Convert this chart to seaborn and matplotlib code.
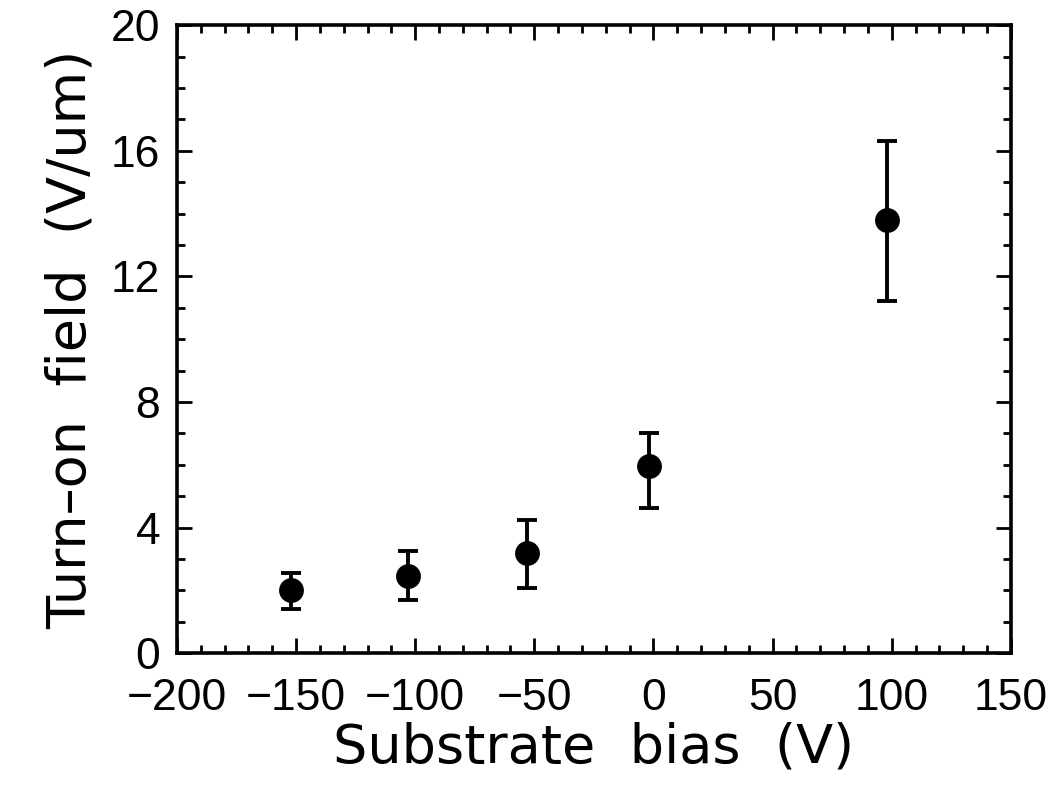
import matplotlib.pyplot as plt
import seaborn as sns
import pandas as pd
from matplotlib.ticker import MultipleLocator

bias = [-152, -103, -53, -2, 98]
field = [2.0, 2.45, 3.2, 5.95, 13.8]
err_low = [1.4, 1.7, 2.07, 4.62, 11.2]
err_high = [2.55, 3.25, 4.25, 7.0, 16.3]

df = pd.DataFrame({'bias': bias, 'field': field})

sns.set_style('ticks')
plt.rcParams['font.family'] = ['Liberation Sans', 'DejaVu Sans']
plt.rcParams['text.color'] = 'black'
plt.rcParams['axes.labelcolor'] = 'black'
plt.rcParams['xtick.color'] = 'black'
plt.rcParams['ytick.color'] = 'black'

fig = plt.figure(figsize=(10.53, 7.86), dpi=100)
ax = fig.add_axes([0.168, 0.169, 0.792, 0.799])

yerr = [[f - lo for f, lo in zip(field, err_low)],
        [hi - f for f, hi in zip(field, err_high)]]
ax.errorbar(bias, field, yerr=yerr, fmt='none', ecolor='black',
            elinewidth=2.8, capsize=7.5, capthick=2.8, zorder=2)
sns.scatterplot(data=df, x='bias', y='field', ax=ax, color='black',
                s=320, edgecolor='black', linewidth=0, zorder=3)

ax.set_xlim(-200, 150)
ax.set_ylim(0, 20)
ax.xaxis.set_major_locator(MultipleLocator(50))
ax.xaxis.set_minor_locator(MultipleLocator(10))
ax.yaxis.set_major_locator(MultipleLocator(4))
ax.yaxis.set_minor_locator(MultipleLocator(1))
ax.tick_params(which='both', direction='in', top=True, right=True,
               color='black', width=2)
ax.tick_params(which='major', length=11, labelsize=32)
ax.tick_params(axis='x', which='major', pad=18)
ax.tick_params(axis='y', which='major', pad=12)
ax.tick_params(which='minor', length=5.5)
for sp in ax.spines.values():
    sp.set_linewidth(2.6)
    sp.set_color('black')

ax.set_xlabel('Substrate  bias  (V)', fontsize=39, family='DejaVu Sans',
              labelpad=2)
ax.set_ylabel('Turn\u2013on  field  (V/um)', fontsize=39, family='DejaVu Sans',
              labelpad=10)

fig.savefig('out.png', dpi=100)
